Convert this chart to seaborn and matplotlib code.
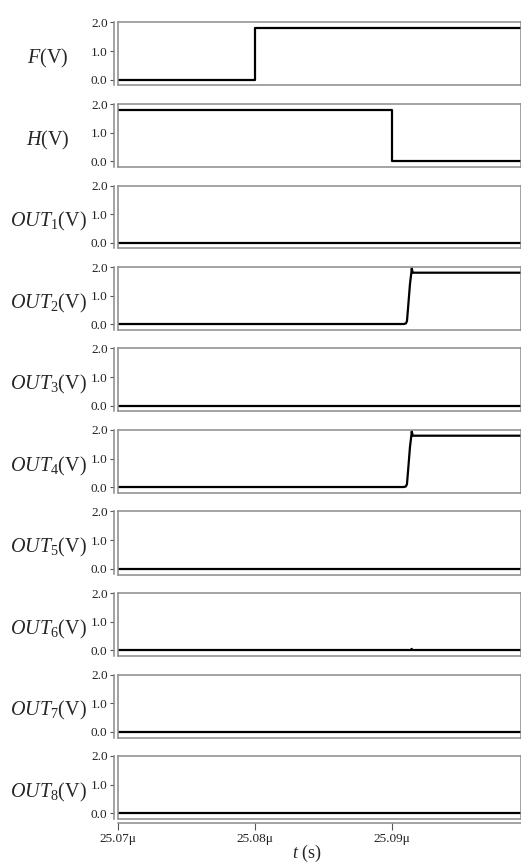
import matplotlib
matplotlib.use("Agg")
import matplotlib.pyplot as plt
import seaborn as sns
import pandas as pd

sns.set_theme(style="white")
plt.rcParams["font.family"] = ["Liberation Serif", "DejaVu Serif"]
plt.rcParams["mathtext.fontset"] = "custom"
plt.rcParams["mathtext.rm"] = "Liberation Serif"
plt.rcParams["mathtext.it"] = "Liberation Serif:italic"

# Time axis in microseconds
x_ticks = [25.07, 25.08, 25.09]
x_tick_labels = ["25.07\u03bc", "25.08\u03bc", "25.09\u03bc"]
t_start, t_end = 25.07, 25.0994

# Waveforms (time in us, voltage in V)
f_t = [25.07, 25.08, 25.08, t_end]
f_v = [0.0, 0.0, 1.8, 1.8]

h_t = [25.07, 25.09, 25.09, t_end]
h_v = [1.8, 1.8, 0.0, 0.0]

low_t = [25.07, t_end]
low_v = [0.0, 0.0]

rise_t = [25.07, 25.09085, 25.09100, 25.09108, 25.09115, 25.09130,
          25.09140, 25.09143, 25.09150, t_end]
rise_v = [0.0, 0.0, 0.02, 0.1, 0.5, 1.4, 1.8, 1.95, 1.8, 1.8]

glitch_t = [25.07, 25.09138, 25.09142, 25.09146, t_end]
glitch_v = [0.0, 0.0, 0.04, 0.0, 0.0]

signals = [
    ("$F$(V)", f_t, f_v),
    ("$H$(V)", h_t, h_v),
    ("$OUT_{\\mathrm{1}}$(V)", low_t, low_v),
    ("$OUT_{\\mathrm{2}}$(V)", rise_t, rise_v),
    ("$OUT_{\\mathrm{3}}$(V)", low_t, low_v),
    ("$OUT_{\\mathrm{4}}$(V)", rise_t, rise_v),
    ("$OUT_{\\mathrm{5}}$(V)", low_t, low_v),
    ("$OUT_{\\mathrm{6}}$(V)", glitch_t, glitch_v),
    ("$OUT_{\\mathrm{7}}$(V)", low_t, low_v),
    ("$OUT_{\\mathrm{8}}$(V)", low_t, low_v),
]
y_ticks = [0.0, 1.0, 2.0]
y_tick_labels = ["0.0", "1.0", "2.0"]

W, H = 521, 863
fig = plt.figure(figsize=(W / 100, H / 100), dpi=100)

left_px = 118
top0_px = 22.5
pitch_px = 81.5
panel_h_px = 63
spine_col = "#8a8a8a"
y_low = -0.21

n = len(signals)
for i, (label, t, v) in enumerate(signals):
    top = top0_px + pitch_px * i
    ax = fig.add_axes([left_px / W, 1 - (top + panel_h_px) / H,
                       (W - left_px) / W, panel_h_px / H])
    df = pd.DataFrame({"t": t, "v": v})
    sns.lineplot(data=df, x="t", y="v", ax=ax, estimator=None, sort=False,
                 color="black", linewidth=1.6)
    ax.set_xlim(t_start, t_end)
    ax.set_ylim(y_low, 2.0)
    ax.set_xlabel("")
    ax.set_ylabel("")
    ax.set_yticks(y_ticks)
    ax.set_yticklabels(y_tick_labels)
    for s in ax.spines.values():
        s.set_color(spine_col)
        s.set_linewidth(1.1)
        s.set_visible(True)
    ax.spines["left"].set_position(("outward", 3))
    ax.axvline(t_start, color=spine_col, linewidth=1.1, clip_on=False)
    ax.tick_params(axis="y", which="both", left=True, length=3, width=0.8,
                   color="#555555", labelsize=9.5, pad=1.5, labelcolor="#222222")
    if i == n - 1:
        ax.spines["bottom"].set_position(("outward", 3))
        ax.axhline(y_low, color=spine_col, linewidth=1.1, clip_on=False)
        ax.set_xticks(x_ticks)
        ax.set_xticklabels(x_tick_labels)
        ax.tick_params(axis="x", bottom=True, length=5, width=0.8,
                       color="#555555", labelsize=9.5, pad=2, labelcolor="#222222")
    else:
        ax.set_xticks([])
    # Signal name to the left of each panel
    fig.text(48 / W, 1 - (top + 36) / H, label, ha="center", va="center",
             fontsize=14.5)

fig.text(307 / W, 1 - 853 / H, "$t$ (s)", ha="center", va="center", fontsize=13)

fig.savefig("out.png", dpi=100)
